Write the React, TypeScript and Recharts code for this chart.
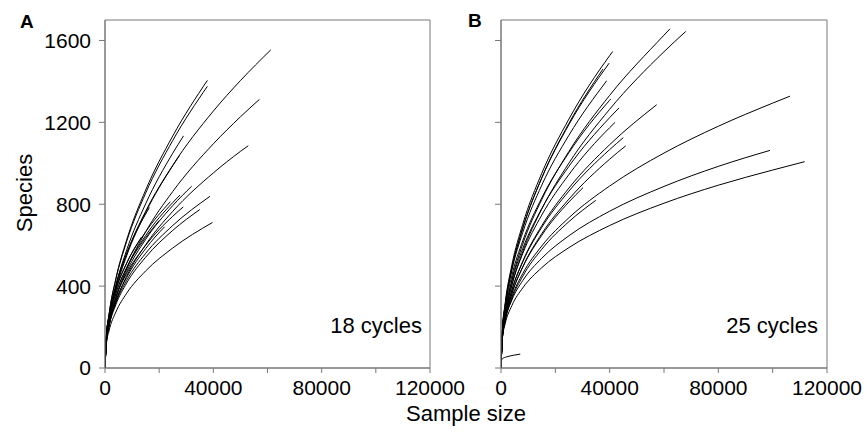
import React from 'react';
import { LineChart, Line, XAxis, YAxis, ReferenceArea } from 'recharts';

const FONT = '"Liberation Sans", Arial, Helvetica, sans-serif';
const AXIS_GREY = '#777';

const xTicks = [0, 20000, 40000, 60000, 80000, 100000, 120000];
const xLabelled = [0, 40000, 80000, 120000];
const yTicks = [0, 400, 800, 1200, 1600];

// Panel A (18 cycles): species read at the shared sample sizes, then the curve's last point
const gridA = [0, 500, 1500, 4000, 8000, 15000, 25000, 40000, 50000];
const endXA = [61200, 57000, 52900, 37800, 37800, 29000, 27500, 32000, 38800, 35000, 39700, 28900, 24100, 16400, 27700, 20000, 13500, 22000];
const endYA = [1554, 1312, 1086, 1405, 1376, 1134, 1038, 888, 839, 774, 711, 787, 812, 784, 845, 720, 640, 690];
const speciesA = [
  [0, 138, 240, 393, 558, 765, 990, 1255, 1404],
  [0, 118, 206, 339, 483, 665, 862, 1095, 1227],
  [0, 123, 205, 324, 449, 602, 765, 953, 1058],
  [0, 148, 262, 436, 626, 869, 1133],
  [0, 148, 261, 432, 618, 854, 1111],
  [0, 134, 239, 400, 576, 802, 1049],
  [0, 131, 231, 383, 548, 759, 988],
  [0, 133, 219, 343, 471, 628, 793],
  [0, 131, 209, 318, 428, 560, 696],
  [0, 128, 204, 309, 415, 541, 672],
  [0, 115, 182, 273, 365, 474, 586],
  [0, 146, 231, 346, 462, 599, 741],
  [0, 160, 254, 382, 511, 665],
  [0, 154, 256, 405, 560, 752],
  [0, 146, 236, 363, 491, 647, 808],
  [0, 151, 240, 364, 488, 637],
  [0, 158, 252, 382, 513],
  [0, 131, 212, 326, 442, 583],
];

// Panel B (25 cycles)
const gridB = [0, 500, 1500, 4000, 8000, 15000, 25000, 40000, 60000, 80000, 100000];
const endXB = [62200, 68000, 41100, 39800, 38900, 40400, 43400, 57300, 45000, 45900, 106400, 99000, 111800, 30200, 34900, 37500, 42000];
const endYB = [1657, 1644, 1546, 1489, 1403, 1314, 1270, 1286, 1125, 1085, 1328, 1063, 1008, 881, 819, 1460, 1200];
const speciesB = [
  [0, 155, 266, 430, 605, 823, 1058, 1332, 1626],
  [0, 143, 248, 403, 568, 776, 1001, 1264, 1545],
  [0, 185, 313, 503, 702, 951, 1216, 1526],
  [0, 179, 304, 489, 684, 928, 1189],
  [0, 178, 299, 477, 662, 893, 1137],
  [0, 172, 287, 451, 621, 831, 1052, 1308],
  [0, 163, 270, 424, 583, 779, 985, 1223],
  [0, 146, 242, 379, 521, 695, 879, 1091],
  [0, 150, 245, 380, 518, 687, 864, 1067],
  [0, 142, 233, 362, 494, 656, 825, 1020],
  [0, 148, 232, 347, 461, 596, 734, 889, 1050, 1181, 1294],
  [0, 156, 233, 332, 427, 536, 646, 766, 887, 985],
  [0, 144, 214, 305, 391, 490, 588, 696, 805, 893, 967],
  [0, 146, 236, 363, 492, 648, 811],
  [0, 144, 226, 338, 448, 580, 715],
  [0, 173, 298, 484, 681, 929, 1195],
  [0, 156, 258, 406, 559, 747, 945, 1174],
];
// the one sample that barely got going
const smallX = [0, 100, 500, 2000, 4500, 7100];
const smallY = [0, 35, 45, 54, 62, 68];

type Pt = { x: number; y: number };

function buildCurves(grid: number[], endX: number[], endY: number[], rows: number[][]): Pt[][] {
  return rows.map((ys, i) => [
    ...ys.map((y, j) => ({ x: grid[j], y })),
    { x: endX[i], y: endY[i] },
  ]);
}

const curvesA = buildCurves(gridA, endXA, endYA, speciesA);
const curvesB = [
  ...buildCurves(gridB, endXB, endYB, speciesB),
  smallX.map((x, i) => ({ x, y: smallY[i] })),
];

function Panel({ curves, left, width, yAxisWidth, marginRight, showYLabels }: {
  curves: Pt[][];
  left: number;
  width: number;
  yAxisWidth: number;
  marginRight: number;
  showYLabels: boolean;
}) {
  return (
    <div style={{ position: 'absolute', left, top: 0 }}>
      <LineChart width={width} height={432} margin={{ top: 20, right: marginRight, left: 0, bottom: 30 }}>
        <XAxis
          type="number"
          dataKey="x"
          domain={[0, 120000]}
          ticks={xTicks}
          interval={0}
          height={34}
          tickSize={5}
          tickMargin={7}
          stroke={AXIS_GREY}
          tickFormatter={(v: number) => (xLabelled.includes(v) ? String(v) : '')}
          tick={{ fill: '#000', fontSize: 21, fontFamily: FONT }}
          allowDataOverflow
        />
        <YAxis
          type="number"
          domain={[0, 1700]}
          ticks={yTicks}
          interval={0}
          width={yAxisWidth}
          tickSize={6}
          tickMargin={8}
          stroke={AXIS_GREY}
          tickFormatter={(v: number) => (showYLabels ? String(v) : '')}
          tick={{ fill: '#000', fontSize: 21, fontFamily: FONT }}
          allowDataOverflow
        />
        <ReferenceArea x1={0} x2={120000} y1={0} y2={1700} fill="none" stroke={AXIS_GREY} strokeWidth={1} />
        {curves.map((pts, i) => (
          <Line
            key={i}
            data={pts}
            dataKey="y"
            type="monotone"
            stroke="#000"
            strokeWidth={1}
            dot={false}
            activeDot={false}
            isAnimationActive={false}
          />
        ))}
      </LineChart>
    </div>
  );
}

export default function App() {
  return (
    <div style={{ position: 'absolute', left: 0, top: 0, width: 867, height: 432, background: '#fff', fontFamily: FONT }}>
      <Panel curves={curvesA} left={0} width={480} yAxisWidth={105} marginRight={50} showYLabels />
      <Panel curves={curvesB} left={430} width={437} yAxisWidth={71} marginRight={40} showYLabels={false} />
      <svg width={867} height={432} style={{ position: 'absolute', left: 0, top: 0, pointerEvents: 'none' }}>
        <text x={20} y={28} fontSize={19} fontWeight="bold" fontFamily={FONT}>A</text>
        <text x={468} y={27} fontSize={19} fontWeight="bold" fontFamily={FONT}>B</text>
        <text x={32} y={193} fontSize={22} fontFamily={FONT} textAnchor="middle" transform="rotate(-90, 32, 193)">Species</text>
        <text x={466} y={421} fontSize={22} fontFamily={FONT} textAnchor="middle">Sample size</text>
        <text x={422} y={333} fontSize={22} fontFamily={FONT} textAnchor="end">18 cycles</text>
        <text x={818} y={333} fontSize={22} fontFamily={FONT} textAnchor="end">25 cycles</text>
      </svg>
    </div>
  );
}
